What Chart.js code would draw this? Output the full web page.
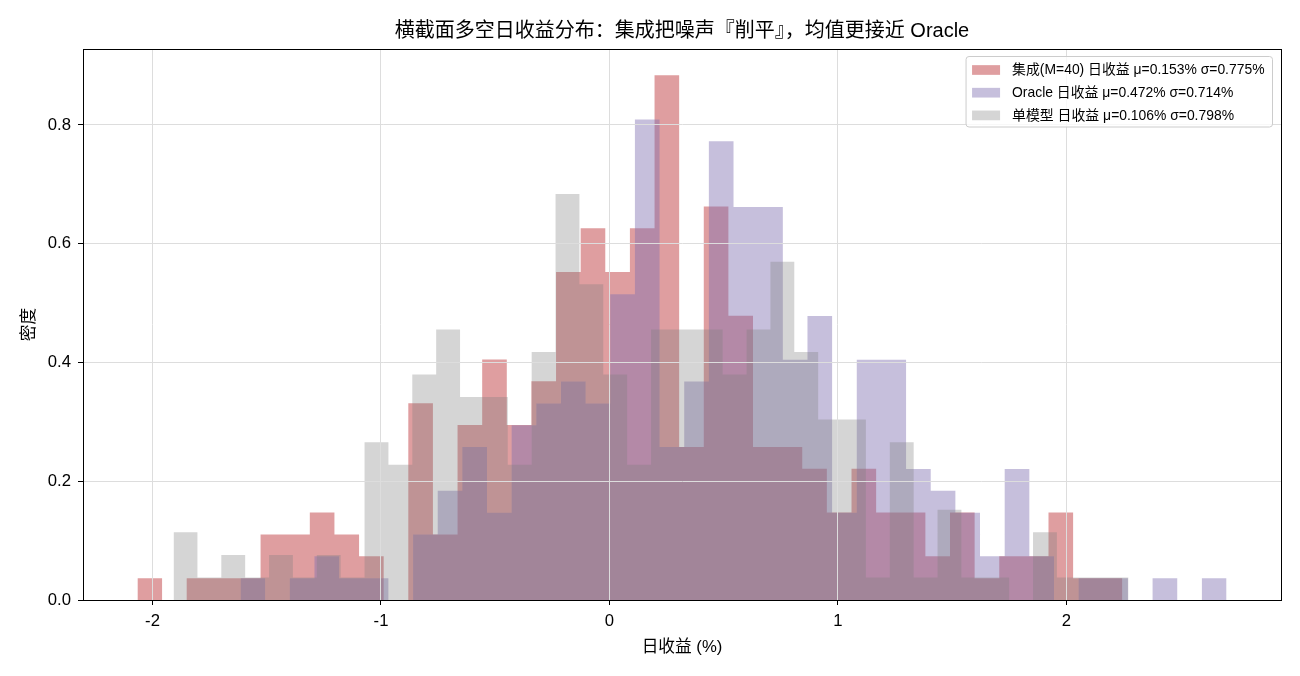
<!DOCTYPE html>
<html>
<head>
<meta charset="utf-8">
<script src="https://cdn.jsdelivr.net/npm/chart.js@4.4.1/dist/chart.umd.min.js"></script>
<style>
    html, body { margin: 0; padding: 0; background: #fff; }
    #wrap { width: 1300px; height: 676px; }
</style>
</head>
<body>
<div id="wrap"><canvas id="histChart" width="1300" height="676"></canvas></div>
<script>
const chartTitle = "横截面多空日收益分布：集成把噪声『削平』，均值更接近 Oracle";
const xTitle = "日收益 (%)";
const yTitle = "密度";
const seriesLabels = [
    "集成(M=40) 日收益 μ=0.153% σ=0.775%",
    "Oracle 日收益 μ=0.472% σ=0.714%",
    "单模型 日收益 μ=0.106% σ=0.798%"
];

// counts per bin (40 bins each)
const ensembleCounts = [1, 0, 1, 1, 1, 3, 3, 4, 3, 2, 0, 9, 3, 8, 11, 8, 10, 15, 17, 15,
                        17, 24, 7, 18, 13, 7, 7, 6, 4, 6, 4, 4, 2, 4, 1, 2, 2, 4, 1, 1];
const oracleCounts = [1, 0, 1, 2, 1, 1, 0, 3, 5, 7, 4, 8, 9, 10, 9, 14, 22, 7, 10, 21,
                      18, 18, 11, 13, 4, 11, 11, 6, 5, 4, 2, 6, 2, 0, 1, 1, 0, 1, 0, 1];
const singleCounts = [3, 1, 2, 1, 2, 1, 2, 1, 7, 6, 10, 12, 9, 9, 6, 11, 18, 14, 10, 6,
                      12, 12, 12, 10, 12, 15, 11, 8, 8, 1, 7, 1, 4, 1, 1, 0, 3, 1, 1, 1];

// first / last bin edge of each histogram (%)
const ensembleRange = [-2.066, 2.245];
const oracleRange = [-1.615, 2.701];
const singleRange = [-1.908, 2.272];
const sampleSize = 252;

const xTicks = [-2, -1, 0, 1, 2];
const yTicks = [0, 0.2, 0.4, 0.6, 0.8];

const fillColors = ["rgba(196,78,82,0.55)", "rgba(129,114,178,0.45)", "rgba(128,128,128,0.33)"];
const FONT = '"Liberation Sans", "Noto Sans CJK SC", sans-serif';

// density histogram as step points (left edges + closing edge)
function histPoints(counts, range) {
    const w = (range[1] - range[0]) / counts.length;
    const pts = counts.map((c, i) => ({ x: range[0] + i * w, y: c / (sampleSize * w) }));
    pts.push({ x: range[1], y: 0 });
    return pts;
}

const allSeries = [
    histPoints(ensembleCounts, ensembleRange),
    histPoints(oracleCounts, oracleRange),
    histPoints(singleCounts, singleRange)
];

// matplotlib style 5% margins
const lo = Math.min(ensembleRange[0], oracleRange[0], singleRange[0]);
const hi = Math.max(ensembleRange[1], oracleRange[1], singleRange[1]);
const xMin = lo - (hi - lo) * 0.05;
const xMax = hi + (hi - lo) * 0.05;
const yMax = Math.max(...allSeries.flat().map(p => p.y)) * 1.05;

const datasets = allSeries.map((pts, i) => ({
    label: seriesLabels[i],
    data: pts,
    stepped: true,
    fill: 'origin',
    backgroundColor: fillColors[i],
    borderColor: 'rgba(0,0,0,0)',
    borderWidth: 0,
    pointRadius: 0,
    order: 3 - i   // first series at the bottom
}));

const legendBox = {
    id: 'legendBox',
    afterDraw(chart) {
        const ctx = chart.ctx;
        const area = chart.chartArea;
        ctx.save();
        ctx.font = '13.9px ' + FONT;
        const textW = Math.max(...seriesLabels.map(t => ctx.measureText(t).width));
        const padX = 6, patchW = 28, patchH = 9.7, gap = 12, rowH = 22.7;
        const boxW = padX + patchW + gap + textW + 8;
        const boxH = 70.5;
        const right = area.right - 8.5;
        const top = area.top + 7.5;
        const left = right - boxW;

        ctx.fillStyle = 'rgba(255,255,255,0.8)';
        ctx.strokeStyle = '#cccccc';
        ctx.lineWidth = 1;
        ctx.beginPath();
        if (ctx.roundRect) ctx.roundRect(left, top, boxW, boxH, 3);
        else ctx.rect(left, top, boxW, boxH);
        ctx.fill();
        ctx.stroke();

        ctx.textBaseline = 'middle';
        seriesLabels.forEach((t, i) => {
            const cy = top + 13.5 + i * rowH;
            ctx.fillStyle = fillColors[i];
            ctx.fillRect(left + padX, cy - patchH / 2, patchW, patchH);
            ctx.fillStyle = '#000';
            ctx.fillText(t, left + padX + patchW + gap, cy + 0.5);
        });
        ctx.restore();
    }
};

// top and right spines
const frame = {
    id: 'frame',
    afterDraw(chart) {
        const ctx = chart.ctx;
        const a = chart.chartArea;
        ctx.save();
        ctx.strokeStyle = '#000';
        ctx.lineWidth = 1;
        ctx.strokeRect(Math.round(a.left) + 0.5, Math.round(a.top) + 0.5,
                       Math.round(a.right - a.left), Math.round(a.bottom - a.top));
        ctx.restore();
    }
};

const tickFont = { family: FONT, size: 16.7 };

new Chart(document.getElementById('histChart'), {
    type: 'line',
    data: { datasets: datasets },
    options: {
        responsive: false,
        animation: false,
        devicePixelRatio: 1,
        layout: { padding: { left: 0, right: 19, top: 0, bottom: 0 } },
        scales: {
            x: {
                type: 'linear',
                min: xMin,
                max: xMax,
                afterBuildTicks: s => { s.ticks = xTicks.map(v => ({ value: v })); },
                afterFit: s => { s.height = 76; },
                ticks: { font: tickFont, color: '#000', padding: 6, maxRotation: 0,
                         callback: v => String(v) },
                grid: { color: '#dddddd', lineWidth: 1, z: 1,
                        tickColor: '#000', tickLength: 5, tickWidth: 1 },
                border: { display: true, color: '#000', width: 1, z: 2 },
                title: { display: true, text: xTitle, color: '#000',
                         font: { family: FONT, size: 16.7 }, padding: { top: 0, bottom: 19 } }
            },
            y: {
                type: 'linear',
                min: 0,
                max: yMax,
                afterBuildTicks: s => { s.ticks = yTicks.map(v => ({ value: v })); },
                afterFit: s => { s.width = 83; },
                ticks: { font: tickFont, color: '#000', padding: 7,
                         callback: v => v.toFixed(1) },
                grid: { color: '#dddddd', lineWidth: 1, z: 1,
                        tickColor: '#000', tickLength: 5, tickWidth: 1 },
                border: { display: true, color: '#000', width: 1, z: 2 },
                title: { display: true, text: yTitle, color: '#000',
                         font: { family: FONT, size: 16.7 }, padding: { top: 19, bottom: 0 } }
            }
        },
        plugins: {
            legend: { display: false },
            tooltip: { enabled: false },
            title: {
                display: true,
                fullSize: false,   // centre over the plot area like matplotlib
                text: chartTitle,
                color: '#000',
                font: { family: FONT, size: 20, weight: 'normal' },
                padding: { top: 19, bottom: 6 }
            }
        }
    },
    plugins: [legendBox, frame]
});
</script>
</body>
</html>
